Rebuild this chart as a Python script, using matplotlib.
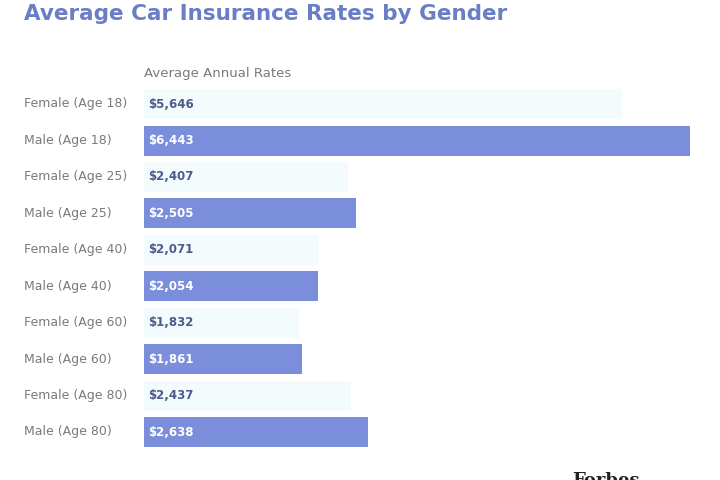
import matplotlib
matplotlib.use("Agg")
import matplotlib.pyplot as plt

# ===== DADOS =====
categorias = ["Female (Age 18)", "Male (Age 18)", "Female (Age 25)", "Male (Age 25)",
              "Female (Age 40)", "Male (Age 40)", "Female (Age 60)", "Male (Age 60)",
              "Female (Age 80)", "Male (Age 80)"]
taxas = [5646, 6443, 2407, 2505, 2071, 2054, 1832, 1861, 2437, 2638]
generos = ["F", "M", "F", "M", "F", "M", "F", "M", "F", "M"]

cor_masc = "#7a8edb"
cor_fem = "#f4fbfc"
cor_titulo = "#6a7ec6"

plt.rcParams["font.family"] = ["DejaVu Sans"]

fig = plt.figure(figsize=(7.2, 4.8), dpi=100)
ax = fig.add_axes([0.2, 0.062, 0.7583, 0.759])

ypos = list(range(len(categorias)))
cores = [cor_masc if g == "M" else cor_fem for g in generos]
ax.barh(ypos, taxas, height=0.82, color=cores, edgecolor="none")

for y, v, g in zip(ypos, taxas, generos):
    ax.text(45, y, f"${v:,}", va="center", ha="left", fontsize=8.5, fontweight="bold",
            color="white" if g == "M" else "#4d5b8c")

ax.set_xlim(0, 6443)
ax.set_ylim(9.5, -0.5)
ax.axis("off")

for y, c in zip(ypos, categorias):
    fig.text(24 / 720, 1 - (104 + y * 36.44) / 480, c, ha="left", va="center",
             fontsize=9, color="#7a7a7a")

fig.text(24 / 720, 1 - 14 / 480, "Average Car Insurance Rates by Gender", ha="left", va="center",
         fontsize=15.5, fontweight="bold", color=cor_titulo)
fig.text(144 / 720, 1 - 73 / 480, "Average Annual Rates", ha="left", va="center",
         fontsize=9.5, color="#7a7a7a")
fig.text(572 / 720, 1 - 472 / 480, "Forbes", ha="left", va="top",
         fontsize=13, family="DejaVu Serif", fontweight="bold", color="#222222")

fig.savefig("out.png", dpi=100)
